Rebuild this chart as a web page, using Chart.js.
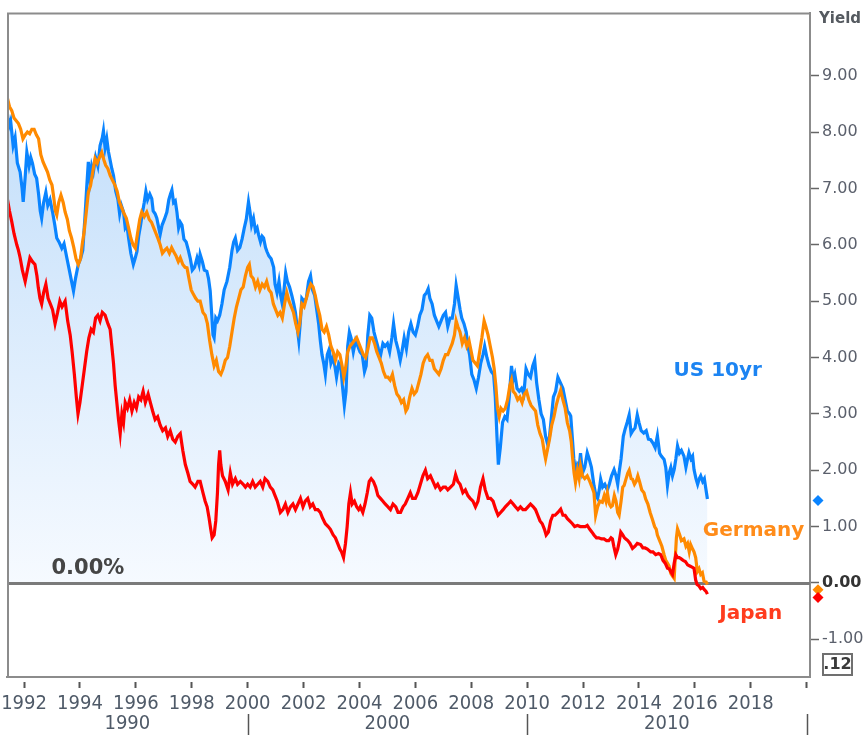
<!DOCTYPE html>
<html><head><meta charset="utf-8">
<script src="https://cdn.jsdelivr.net/npm/chart.js@4.4.0/dist/chart.umd.min.js"></script>
<style>html,body{margin:0;padding:0;background:#fff;}#wrap{width:868px;height:736px;}</style>
</head><body><div id="wrap"><canvas id="c" width="868" height="736"></canvas></div>
<script>
// ---------- DATA ----------
const usYears = [1991.40,1991.46,1991.52,1991.61,1991.68,1991.76,1991.86,1991.93,1991.97,1992.04,1992.10,1992.18,1992.24,1992.30,1992.38,1992.45,1992.52,1992.58,1992.63,1992.70,1992.78,1992.85,1992.93,1993.02,1993.10,1993.17,1993.25,1993.35,1993.43,1993.53,1993.62,1993.70,1993.77,1993.84,1993.94,1994.02,1994.10,1994.18,1994.24,1994.30,1994.36,1994.42,1994.48,1994.56,1994.64,1994.72,1994.80,1994.84,1994.90,1994.96,1995.02,1995.08,1995.14,1995.20,1995.28,1995.36,1995.42,1995.48,1995.56,1995.62,1995.68,1995.74,1995.82,1995.91,1995.97,1996.04,1996.10,1996.17,1996.24,1996.30,1996.36,1996.42,1996.50,1996.57,1996.62,1996.69,1996.75,1996.82,1996.87,1996.94,1997.02,1997.11,1997.18,1997.24,1997.29,1997.35,1997.41,1997.47,1997.53,1997.59,1997.65,1997.72,1997.80,1997.88,1997.95,1998.02,1998.10,1998.19,1998.26,1998.30,1998.38,1998.45,1998.54,1998.60,1998.66,1998.71,1998.76,1998.80,1998.86,1998.92,1999.00,1999.08,1999.16,1999.26,1999.36,1999.44,1999.50,1999.56,1999.64,1999.72,1999.80,1999.88,1999.95,2000.03,2000.08,2000.14,2000.21,2000.28,2000.34,2000.39,2000.46,2000.52,2000.57,2000.64,2000.69,2000.76,2000.84,2000.93,2000.98,2001.05,2001.12,2001.18,2001.24,2001.30,2001.36,2001.42,2001.50,2001.58,2001.65,2001.71,2001.77,2001.83,2001.88,2001.94,2002.02,2002.10,2002.18,2002.25,2002.32,2002.40,2002.47,2002.54,2002.60,2002.66,2002.72,2002.78,2002.85,2002.92,2002.98,2003.05,2003.12,2003.18,2003.26,2003.33,2003.40,2003.46,2003.52,2003.58,2003.64,2003.70,2003.78,2003.86,2003.94,2004.02,2004.10,2004.18,2004.24,2004.30,2004.37,2004.44,2004.52,2004.60,2004.68,2004.76,2004.84,2004.92,2005.00,2005.08,2005.16,2005.22,2005.30,2005.38,2005.46,2005.52,2005.60,2005.68,2005.76,2005.84,2005.92,2006.00,2006.08,2006.16,2006.24,2006.32,2006.40,2006.46,2006.52,2006.60,2006.68,2006.76,2006.84,2006.92,2007.00,2007.08,2007.16,2007.24,2007.32,2007.40,2007.46,2007.52,2007.60,2007.66,2007.74,2007.82,2007.88,2007.94,2008.02,2008.10,2008.18,2008.26,2008.34,2008.42,2008.48,2008.56,2008.64,2008.72,2008.80,2008.86,2008.92,2008.97,2009.04,2009.12,2009.20,2009.28,2009.36,2009.44,2009.50,2009.56,2009.64,2009.72,2009.80,2009.88,2009.96,2010.04,2010.12,2010.20,2010.27,2010.34,2010.42,2010.50,2010.58,2010.66,2010.74,2010.80,2010.86,2010.94,2011.02,2011.10,2011.20,2011.28,2011.36,2011.44,2011.52,2011.56,2011.62,2011.67,2011.74,2011.80,2011.86,2011.91,2011.98,2012.06,2012.15,2012.22,2012.30,2012.39,2012.46,2012.52,2012.58,2012.63,2012.70,2012.78,2012.87,2012.94,2013.02,2013.11,2013.18,2013.24,2013.29,2013.36,2013.44,2013.50,2013.58,2013.65,2013.72,2013.78,2013.86,2013.94,2014.00,2014.08,2014.17,2014.26,2014.34,2014.42,2014.50,2014.58,2014.66,2014.74,2014.80,2014.90,2014.96,2015.02,2015.08,2015.14,2015.20,2015.26,2015.32,2015.38,2015.45,2015.52,2015.61,2015.68,2015.74,2015.79,2015.86,2015.92,2015.97,2016.04,2016.10,2016.16,2016.21,2016.28,2016.34,2016.40,2016.45];
const usYield = [8.35,8.10,8.20,7.76,7.90,7.45,7.29,7.00,6.76,7.20,7.64,7.40,7.55,7.45,7.25,7.18,6.90,6.60,6.47,6.75,6.93,6.70,6.80,6.58,6.35,6.12,6.05,5.94,6.02,5.77,5.55,5.35,5.18,5.40,5.65,5.75,5.90,6.50,7.00,7.47,7.15,7.40,7.29,7.55,7.40,7.76,7.90,8.02,7.72,7.88,7.65,7.50,7.35,7.23,6.95,6.80,6.55,6.70,6.58,6.30,6.35,6.12,5.85,5.65,5.75,5.88,6.15,6.35,6.58,6.75,6.95,6.80,6.90,6.82,6.60,6.55,6.47,6.30,6.18,6.35,6.45,6.58,6.80,6.90,6.97,6.75,6.78,6.58,6.30,6.40,6.35,6.10,6.05,5.90,5.75,5.55,5.60,5.77,5.65,5.83,5.70,5.55,5.53,5.40,5.18,4.80,4.40,4.35,4.70,4.65,4.75,4.95,5.20,5.35,5.60,5.90,6.05,6.12,5.90,5.95,6.10,6.30,6.45,6.76,6.60,6.35,6.47,6.25,6.30,6.18,6.05,6.15,6.12,5.95,5.88,5.80,5.75,5.60,5.30,5.15,5.35,5.10,4.95,5.20,5.50,5.35,5.25,5.10,4.95,4.80,4.55,4.30,4.60,5.05,5.00,5.05,5.35,5.45,5.20,5.10,4.85,4.60,4.30,4.05,3.90,3.70,4.05,4.15,3.90,4.00,3.85,3.65,3.90,3.85,3.45,3.15,3.40,4.20,4.45,4.35,4.10,4.30,4.20,4.10,4.05,3.75,3.85,4.40,4.75,4.70,4.45,4.30,4.15,4.05,4.25,4.20,4.25,4.10,4.35,4.60,4.30,4.15,3.95,4.10,4.35,4.15,4.45,4.60,4.45,4.40,4.55,4.75,4.85,5.10,5.15,5.22,5.05,4.95,4.75,4.65,4.55,4.65,4.75,4.80,4.55,4.70,4.70,4.95,5.28,5.10,4.85,4.70,4.60,4.45,4.20,4.05,3.70,3.60,3.45,3.65,3.90,4.05,4.20,4.00,3.85,3.75,3.70,3.30,2.60,2.10,2.40,2.85,2.95,2.90,3.30,3.85,3.60,3.70,3.45,3.40,3.45,3.35,3.80,3.70,3.65,3.85,3.95,3.55,3.25,3.00,2.90,2.60,2.45,2.60,2.90,3.30,3.40,3.65,3.54,3.45,3.25,3.05,3.00,2.96,2.55,2.20,1.95,2.10,2.05,2.30,1.95,2.05,2.31,2.20,2.05,1.73,1.55,1.50,1.65,1.84,1.70,1.75,1.65,1.75,1.90,2.01,1.90,1.75,1.96,2.20,2.60,2.72,2.85,2.98,2.65,2.70,2.75,2.98,2.85,2.70,2.66,2.70,2.55,2.54,2.48,2.40,2.61,2.30,2.25,2.19,2.05,1.73,1.95,2.05,1.90,2.01,2.20,2.43,2.30,2.35,2.25,2.05,2.20,2.31,2.20,2.25,2.01,1.85,1.75,1.85,1.90,1.80,1.85,1.65,1.49];

const deYears = [1991.40,1991.48,1991.56,1991.64,1991.72,1991.80,1991.88,1991.96,1992.04,1992.12,1992.20,1992.28,1992.36,1992.44,1992.52,1992.60,1992.68,1992.76,1992.84,1992.92,1993.00,1993.06,1993.12,1993.17,1993.24,1993.32,1993.40,1993.47,1993.55,1993.62,1993.70,1993.78,1993.86,1993.94,1994.02,1994.08,1994.15,1994.22,1994.30,1994.38,1994.46,1994.54,1994.62,1994.70,1994.78,1994.86,1994.92,1995.00,1995.08,1995.16,1995.25,1995.33,1995.41,1995.50,1995.58,1995.66,1995.74,1995.82,1995.90,1995.98,1996.06,1996.14,1996.21,1996.30,1996.39,1996.48,1996.56,1996.64,1996.72,1996.80,1996.87,1996.95,1997.03,1997.11,1997.20,1997.28,1997.35,1997.44,1997.52,1997.59,1997.68,1997.76,1997.83,1997.90,1997.98,1998.06,1998.14,1998.22,1998.30,1998.40,1998.48,1998.56,1998.64,1998.72,1998.80,1998.88,1998.96,1999.04,1999.12,1999.20,1999.28,1999.36,1999.44,1999.52,1999.60,1999.68,1999.76,1999.84,1999.92,2000.00,2000.06,2000.12,2000.20,2000.28,2000.36,2000.44,2000.52,2000.60,2000.68,2000.76,2000.84,2000.92,2001.00,2001.08,2001.16,2001.24,2001.32,2001.40,2001.48,2001.56,2001.64,2001.72,2001.80,2001.86,2001.94,2002.02,2002.10,2002.18,2002.26,2002.34,2002.42,2002.50,2002.58,2002.66,2002.74,2002.82,2002.90,2002.98,2003.06,2003.14,2003.22,2003.30,2003.38,2003.44,2003.50,2003.58,2003.66,2003.74,2003.82,2003.90,2003.98,2004.06,2004.14,2004.22,2004.30,2004.38,2004.46,2004.54,2004.62,2004.70,2004.78,2004.86,2004.94,2005.02,2005.10,2005.18,2005.26,2005.34,2005.42,2005.50,2005.58,2005.66,2005.72,2005.80,2005.88,2005.96,2006.04,2006.12,2006.20,2006.28,2006.36,2006.44,2006.52,2006.60,2006.68,2006.76,2006.84,2006.92,2007.00,2007.08,2007.16,2007.24,2007.32,2007.40,2007.46,2007.52,2007.60,2007.68,2007.76,2007.84,2007.92,2008.00,2008.06,2008.14,2008.22,2008.30,2008.38,2008.46,2008.52,2008.60,2008.68,2008.76,2008.82,2008.88,2008.94,2009.00,2009.06,2009.14,2009.22,2009.30,2009.38,2009.44,2009.50,2009.58,2009.66,2009.74,2009.82,2009.90,2009.98,2010.06,2010.14,2010.22,2010.30,2010.38,2010.46,2010.54,2010.62,2010.66,2010.72,2010.80,2010.88,2010.96,2011.04,2011.12,2011.20,2011.28,2011.36,2011.44,2011.52,2011.58,2011.62,2011.68,2011.73,2011.80,2011.86,2011.91,2011.98,2012.06,2012.15,2012.24,2012.32,2012.39,2012.45,2012.52,2012.60,2012.69,2012.76,2012.82,2012.87,2012.94,2013.00,2013.05,2013.12,2013.18,2013.24,2013.29,2013.36,2013.42,2013.47,2013.54,2013.60,2013.65,2013.72,2013.77,2013.84,2013.90,2013.96,2014.02,2014.10,2014.18,2014.24,2014.32,2014.40,2014.48,2014.56,2014.62,2014.66,2014.74,2014.82,2014.90,2014.96,2015.02,2015.08,2015.14,2015.20,2015.26,2015.30,2015.34,2015.38,2015.46,2015.52,2015.61,2015.68,2015.74,2015.80,2015.85,2015.92,2015.97,2016.03,2016.09,2016.15,2016.21,2016.27,2016.33,2016.40,2016.45];
const deYield = [8.61,8.45,8.38,8.25,8.20,8.15,8.05,7.88,7.95,8.00,7.97,8.05,8.05,7.95,7.88,7.60,7.47,7.38,7.29,7.15,7.06,6.85,6.60,6.53,6.75,6.88,6.75,6.58,6.45,6.25,6.12,5.95,5.75,5.65,5.75,6.00,6.23,6.55,6.93,7.05,7.30,7.53,7.45,7.55,7.64,7.50,7.41,7.35,7.23,7.15,7.06,6.95,6.76,6.65,6.55,6.47,6.30,6.12,6.00,5.94,6.20,6.45,6.58,6.50,6.58,6.45,6.40,6.30,6.20,6.10,6.00,5.85,5.90,5.94,5.85,5.95,5.88,5.80,5.70,5.77,5.65,5.60,5.59,5.40,5.20,5.12,5.05,5.00,5.00,4.80,4.75,4.60,4.30,4.05,3.85,3.95,3.75,3.70,3.80,3.95,4.00,4.20,4.45,4.70,4.90,5.05,5.20,5.25,5.45,5.60,5.65,5.45,5.40,5.25,5.35,5.20,5.30,5.25,5.35,5.20,5.15,4.95,4.85,4.75,4.80,4.70,4.95,5.15,5.00,4.90,4.80,4.60,4.45,4.60,4.95,4.90,5.05,5.20,5.30,5.25,5.10,4.90,4.75,4.50,4.45,4.55,4.40,4.20,4.10,3.95,4.10,4.05,3.85,3.65,3.80,4.10,4.20,4.25,4.30,4.35,4.25,4.15,4.05,4.00,4.15,4.35,4.35,4.25,4.10,4.00,3.90,3.75,3.65,3.65,3.60,3.70,3.50,3.35,3.30,3.20,3.25,3.05,3.10,3.30,3.45,3.35,3.40,3.55,3.70,3.90,4.00,4.05,3.95,3.95,3.80,3.75,3.70,3.80,3.95,4.05,4.05,4.15,4.25,4.40,4.65,4.55,4.45,4.25,4.35,4.20,4.30,4.10,3.95,3.90,3.85,4.10,4.35,4.65,4.55,4.40,4.20,4.00,3.80,3.50,3.10,2.95,3.10,3.05,3.10,3.25,3.50,3.60,3.40,3.35,3.25,3.30,3.20,3.35,3.40,3.25,3.15,3.10,3.05,2.80,2.65,2.55,2.30,2.20,2.35,2.55,2.80,2.95,3.15,3.30,3.42,3.25,3.10,2.84,2.70,2.50,2.25,1.95,1.78,2.00,1.85,2.07,1.90,1.85,1.90,1.80,1.70,1.60,1.20,1.35,1.45,1.43,1.55,1.45,1.60,1.40,1.35,1.37,1.55,1.45,1.25,1.20,1.45,1.70,1.73,1.85,1.95,2.00,1.85,1.84,1.75,1.80,1.90,1.80,1.65,1.60,1.49,1.40,1.25,1.13,1.00,0.95,0.85,0.75,0.65,0.50,0.40,0.35,0.30,0.17,0.12,0.08,0.45,0.80,0.96,0.85,0.75,0.78,0.65,0.70,0.55,0.68,0.60,0.55,0.45,0.20,0.25,0.15,0.18,0.03,0.02,-0.03];

const jpYears = [1991.40,1991.48,1991.56,1991.64,1991.74,1991.80,1991.86,1991.94,1992.04,1992.12,1992.21,1992.30,1992.39,1992.46,1992.51,1992.57,1992.63,1992.70,1992.78,1992.86,1992.94,1993.02,1993.11,1993.20,1993.28,1993.36,1993.47,1993.56,1993.65,1993.72,1993.80,1993.87,1993.93,1994.00,1994.08,1994.16,1994.24,1994.32,1994.40,1994.48,1994.56,1994.64,1994.72,1994.80,1994.90,1995.00,1995.08,1995.14,1995.20,1995.26,1995.32,1995.38,1995.44,1995.50,1995.56,1995.62,1995.70,1995.78,1995.86,1995.94,1996.02,1996.10,1996.18,1996.26,1996.34,1996.44,1996.52,1996.60,1996.69,1996.78,1996.87,1996.96,1997.06,1997.14,1997.23,1997.32,1997.41,1997.50,1997.59,1997.68,1997.77,1997.86,1997.94,1998.04,1998.12,1998.22,1998.30,1998.40,1998.48,1998.55,1998.62,1998.68,1998.73,1998.80,1998.86,1998.92,1998.96,1999.00,1999.04,1999.10,1999.20,1999.30,1999.38,1999.46,1999.56,1999.64,1999.74,1999.84,1999.92,2000.00,2000.09,2000.18,2000.27,2000.36,2000.45,2000.54,2000.62,2000.72,2000.81,2000.90,2000.98,2001.06,2001.17,2001.26,2001.35,2001.44,2001.53,2001.62,2001.71,2001.80,2001.89,2001.98,2002.06,2002.15,2002.24,2002.33,2002.42,2002.51,2002.60,2002.68,2002.78,2002.88,2002.96,2003.06,2003.14,2003.22,2003.30,2003.36,2003.43,2003.50,2003.56,2003.62,2003.68,2003.74,2003.82,2003.90,2003.97,2004.03,2004.12,2004.20,2004.28,2004.35,2004.42,2004.50,2004.58,2004.66,2004.75,2004.84,2004.92,2005.02,2005.11,2005.20,2005.30,2005.38,2005.47,2005.56,2005.64,2005.73,2005.82,2005.90,2006.00,2006.09,2006.18,2006.27,2006.36,2006.44,2006.54,2006.63,2006.72,2006.80,2006.90,2007.00,2007.08,2007.16,2007.26,2007.36,2007.44,2007.52,2007.60,2007.70,2007.79,2007.88,2007.96,2008.06,2008.15,2008.24,2008.33,2008.42,2008.50,2008.60,2008.69,2008.78,2008.88,2008.96,2009.05,2009.14,2009.22,2009.32,2009.41,2009.50,2009.58,2009.67,2009.76,2009.85,2009.94,2010.03,2010.12,2010.22,2010.30,2010.38,2010.46,2010.54,2010.62,2010.68,2010.76,2010.84,2010.92,2011.00,2011.10,2011.20,2011.28,2011.36,2011.44,2011.52,2011.62,2011.70,2011.80,2011.90,2012.00,2012.08,2012.15,2012.24,2012.32,2012.39,2012.48,2012.56,2012.66,2012.75,2012.84,2012.92,2013.00,2013.05,2013.10,2013.17,2013.24,2013.30,2013.35,2013.42,2013.48,2013.53,2013.60,2013.68,2013.77,2013.86,2013.94,2014.06,2014.14,2014.22,2014.30,2014.42,2014.50,2014.60,2014.70,2014.78,2014.86,2014.94,2015.02,2015.08,2015.14,2015.20,2015.26,2015.32,2015.38,2015.44,2015.50,2015.58,2015.66,2015.74,2015.82,2015.90,2015.97,2016.03,2016.08,2016.14,2016.21,2016.28,2016.34,2016.40,2016.45];
const jpYield = [6.82,6.60,6.41,6.20,6.00,5.90,5.77,5.55,5.35,5.55,5.77,5.70,5.65,5.45,5.24,5.05,4.95,5.15,5.30,5.05,4.95,4.85,4.60,4.80,5.00,4.90,5.00,4.65,4.40,4.10,3.70,3.30,3.00,3.20,3.50,3.80,4.10,4.35,4.50,4.45,4.70,4.75,4.65,4.80,4.75,4.60,4.50,4.20,3.90,3.50,3.20,2.90,2.65,3.00,2.85,3.20,3.10,3.25,3.05,3.20,3.10,3.30,3.25,3.40,3.20,3.35,3.20,3.05,2.90,2.95,2.80,2.70,2.75,2.60,2.70,2.55,2.50,2.60,2.65,2.35,2.10,1.95,1.80,1.75,1.70,1.80,1.80,1.60,1.45,1.35,1.15,0.95,0.80,0.85,1.10,1.60,2.10,2.35,2.10,1.90,1.80,1.65,1.95,1.75,1.85,1.75,1.80,1.75,1.70,1.75,1.70,1.80,1.70,1.75,1.80,1.70,1.85,1.80,1.70,1.65,1.55,1.45,1.25,1.30,1.40,1.25,1.35,1.40,1.30,1.40,1.50,1.35,1.45,1.50,1.35,1.40,1.30,1.30,1.25,1.15,1.05,1.00,0.95,0.85,0.80,0.70,0.60,0.55,0.45,0.70,1.00,1.40,1.60,1.40,1.45,1.35,1.30,1.35,1.25,1.40,1.60,1.80,1.85,1.80,1.70,1.55,1.50,1.45,1.40,1.35,1.30,1.40,1.35,1.25,1.25,1.35,1.40,1.50,1.60,1.50,1.50,1.60,1.75,1.90,2.00,1.85,1.90,1.80,1.70,1.75,1.65,1.70,1.70,1.65,1.70,1.75,1.92,1.80,1.75,1.60,1.65,1.55,1.50,1.45,1.35,1.45,1.70,1.85,1.65,1.50,1.50,1.45,1.30,1.20,1.25,1.30,1.35,1.40,1.45,1.40,1.35,1.30,1.35,1.30,1.30,1.35,1.40,1.35,1.30,1.20,1.10,1.05,0.95,0.85,0.90,1.10,1.20,1.20,1.25,1.31,1.20,1.20,1.14,1.10,1.05,1.00,1.02,1.00,1.00,1.00,1.02,0.95,0.90,0.85,0.80,0.80,0.78,0.78,0.75,0.75,0.80,0.78,0.65,0.50,0.60,0.75,0.90,0.85,0.80,0.78,0.75,0.70,0.61,0.65,0.70,0.68,0.62,0.62,0.60,0.55,0.55,0.50,0.52,0.50,0.40,0.35,0.26,0.25,0.20,0.15,0.35,0.50,0.45,0.45,0.43,0.40,0.38,0.32,0.30,0.28,0.26,0.05,-0.03,-0.05,-0.10,-0.08,-0.12,-0.15,-0.20];

// latest-value markers on the right axis (US, Germany, Japan)
const markerValues = [1.46, -0.12, -0.26];
const seriesNames = ['US 10yr', 'Germany', 'Japan'];
const xTickYears = [1992,1994,1996,1998,2000,2002,2004,2006,2008,2010,2012,2014,2016,2018,2020];
const yTickValues = [-1,0,1,2,3,4,5,6,7,8,9];
const decadeStarts = [1990, 2000, 2010];
const decadeLabels = ['1990', '2000', '2010'];

// ---------- STYLE ----------
const C_US = '#0a84ff', C_DE = '#ff8a00', C_JP = '#ff0000';
const SERIES_COLORS = [C_US, C_DE, C_JP];
const X_MIN = 1991.39, X_MAX = 2020.12, Y_MIN = -1.67, Y_MAX = 10.12;
const yearFont = "'Liberation Sans Narrow', 'DejaVu Sans Condensed', 'Liberation Sans', sans-serif";
const labFont = "'DejaVu Sans', Verdana, sans-serif";

const toPts = (xs, ys) => xs.map((x, i) => ({x: x, y: ys[i]}));

function usFill(context) {
  const chart = context.chart;
  const ca = chart.chartArea;
  if (!ca) return 'rgba(200,225,250,0.5)';
  const ys = chart.scales.y;
  const g = chart.ctx.createLinearGradient(0, ys.getPixelForValue(9), 0, ys.getPixelForValue(0));
  g.addColorStop(0, '#c0ddfa');
  g.addColorStop(1, '#f6faff');
  return g;
}

const framePlugin = {
  id: 'frame',
  beforeDatasetsDraw(chart) {
    const {ctx, chartArea: ca, scales: {y}} = chart;
    ctx.save();
    const y0 = Math.round(y.getPixelForValue(0)) + 0.5;
    ctx.strokeStyle = '#7a7a7a';
    ctx.lineWidth = 3;
    ctx.beginPath(); ctx.moveTo(ca.left, y0); ctx.lineTo(ca.right, y0); ctx.stroke();
    ctx.restore();
  },
  afterDraw(chart) {
    const {ctx, chartArea: ca, scales: {x, y}} = chart;
    ctx.save();
    // left and top frame
    ctx.strokeStyle = '#8c8c8c';
    ctx.lineWidth = 2;
    ctx.beginPath();
    ctx.moveTo(ca.left + 1, ca.bottom); ctx.lineTo(ca.left + 1, ca.top + 1); ctx.lineTo(ca.right, ca.top + 1);
    ctx.stroke();

    // last-value diamonds on the value axis
    markerValues.forEach((v, i) => {
      const px = ca.right + 8, py = y.getPixelForValue(v), r = 5.5;
      ctx.fillStyle = SERIES_COLORS[i];
      ctx.beginPath();
      ctx.moveTo(px, py - r); ctx.lineTo(px + r, py); ctx.lineTo(px, py + r); ctx.lineTo(px - r, py);
      ctx.closePath(); ctx.fill();
    });

    // series labels
    ctx.textAlign = 'center'; ctx.textBaseline = 'middle';
    ctx.font = 'bold 20px ' + labFont;
    ctx.fillStyle = '#1c84f2';
    ctx.fillText(seriesNames[0], x.getPixelForValue(2016.82), y.getPixelForValue(3.77));
    ctx.fillStyle = '#ff8c1a';
    ctx.fillText(seriesNames[1], x.getPixelForValue(2018.1), y.getPixelForValue(0.92));
    ctx.fillStyle = '#ff3c1e';
    ctx.fillText(seriesNames[2], x.getPixelForValue(2018.0), y.getPixelForValue(-0.55));

    // 0.00% label
    ctx.textAlign = 'left';
    ctx.font = 'bold 21px ' + labFont;
    ctx.fillStyle = '#454545';
    ctx.fillText('0.00%', x.getPixelForValue(1992.98), y.getPixelForValue(0.26));

    // axis title
    ctx.font = 'bold 15px ' + labFont;
    ctx.fillStyle = '#555a60';
    ctx.textBaseline = 'alphabetic';
    ctx.fillText('Yield', ca.right + 9, 23);

    // small value box
    ctx.strokeStyle = '#707070';
    ctx.lineWidth = 2;
    ctx.strokeRect(823, 654, 29, 21);
    ctx.font = 'bold 16px ' + labFont;
    ctx.fillStyle = '#3a3a3a';
    ctx.textAlign = 'center'; ctx.textBaseline = 'middle';
    ctx.fillText('.12', 837.5, 665);

    // decade row
    ctx.font = '20px ' + yearFont;
    ctx.fillStyle = '#4f5a68';
    ctx.strokeStyle = '#555';
    ctx.lineWidth = 1.5;
    decadeStarts.forEach((d, i) => {
      const a = Math.max(d, x.min), b = Math.min(d + 10, x.max);
      const cx = (x.getPixelForValue(a) + x.getPixelForValue(b)) / 2;
      ctx.fillText(decadeLabels[i], cx, 724);
      const sx = Math.round(x.getPixelForValue(d + 10)) + 0.5;
      ctx.beginPath(); ctx.moveTo(sx, 714); ctx.lineTo(sx, 735); ctx.stroke();
    });
    ctx.restore();
  }
};

const ctx = document.getElementById('c').getContext('2d');
new Chart(ctx, {
  type: 'line',
  data: {
    datasets: [
      { label: seriesNames[0], data: toPts(usYears, usYield), borderColor: C_US, borderWidth: 3.2,
        pointRadius: 0, fill: {value: 0}, backgroundColor: usFill, order: 3, tension: 0 },
      { label: seriesNames[1], data: toPts(deYears, deYield), borderColor: C_DE, borderWidth: 3.2,
        pointRadius: 0, fill: false, order: 2, tension: 0 },
      { label: seriesNames[2], data: toPts(jpYears, jpYield), borderColor: C_JP, borderWidth: 3.2,
        pointRadius: 0, fill: false, order: 1, tension: 0 }
    ]
  },
  options: {
    responsive: false, animation: false, devicePixelRatio: 1,
    layout: {padding: {left: 7, top: 6, right: 0, bottom: 0}},
    plugins: {legend: {display: false}, tooltip: {enabled: false}, filler: {drawTime: 'beforeDatasetsDraw'}},
    scales: {
      x: {
        type: 'linear', min: X_MIN, max: X_MAX,
        afterBuildTicks: s => { s.ticks = xTickYears.map(v => ({value: v})); },
        afterFit: s => { s.height = 59; },
        ticks: { autoSkip: false, maxRotation: 0, minRotation: 0, padding: 0,
          callback: v => (v === 2020 ? '' : String(v)),
          font: {family: yearFont, size: 20}, color: '#4f5a68' },
        grid: { drawOnChartArea: false, drawTicks: true, tickLength: 15, tickColor: '#555',
          tickWidth: 2, tickBorderDash: [0, 4, 6, 20] },
        border: {display: true, color: '#8c8c8c', width: 2}
      },
      y: {
        position: 'right', min: Y_MIN, max: Y_MAX,
        afterBuildTicks: s => { s.ticks = yTickValues.map(v => ({value: v})); },
        afterFit: s => { s.width = 58; },
        ticks: { padding: 3, callback: v => v.toFixed(2),
          font: c => ({family: labFont, size: 16, weight: (c.tick && c.tick.value === 0) ? 'bold' : 'normal'}),
          color: c => (c.tick && c.tick.value === 0) ? '#333' : '#5b606c' },
        grid: { drawOnChartArea: false, tickLength: 9, tickColor: '#666', tickWidth: 1.5 },
        border: {display: true, color: '#8c8c8c', width: 2}
      }
    }
  },
  plugins: [framePlugin]
});
</script>
</body></html>
